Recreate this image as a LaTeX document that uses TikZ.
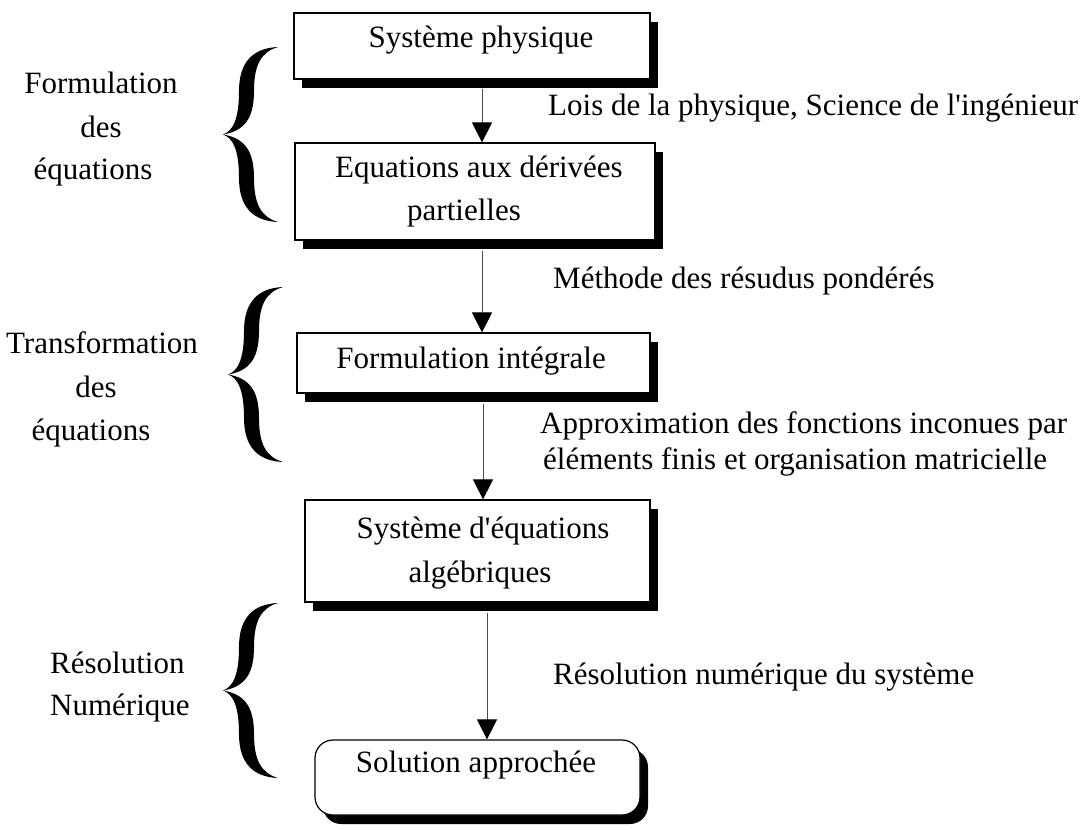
\documentclass[tikz,border=0pt]{standalone}
\usepackage{fontspec}
\setmainfont{Liberation Serif}
\usetikzlibrary{shadows,arrows.meta}
\newcommand\mybrace[3]{% #1 x of tip, #2 top y, #3 height
  \fill[black, shift={(#1,#2)}, yscale=#3/175]
    (55,0) .. controls (30,1) and (16,15) .. (16,44)
           .. controls (16,72) and (10,84) .. (0,87.5)
           .. controls (10,91) and (16,103) .. (16,131)
           .. controls (16,160) and (30,174) .. (55,175)
           .. controls (38,170) and (31,157) .. (31,131)
           .. controls (31,103) and (21,91) .. (0,87.5)
           .. controls (21,84) and (31,72) .. (31,44)
           .. controls (31,18) and (38,5) .. (55,0) -- cycle;}
\tikzset{
  box/.style={draw, line width=1.2pt, fill=white, inner sep=0pt,
    drop shadow={fill=black, opacity=1, shadow xshift=8pt, shadow yshift=-9pt}},
  arr/.style={line width=1pt, draw=black!70, -{Triangle[length=20pt,width=20pt,color=black]}},
  txt/.style={font=\fontsize{31}{37}\selectfont, inner sep=0pt, anchor=base},
  txtl/.style={txt, anchor=base west},
}
\begin{document}
\begin{tikzpicture}[x=1pt,y=-1pt]
\useasboundingbox (0,0) rectangle (1088,830);
% boxes
\node[box, minimum width=356pt, minimum height=66pt] (b1) at (472,46) {};
\node[box, minimum width=360pt, minimum height=97pt] (b2) at (475,191.5) {};
\node[box, minimum width=353pt, minimum height=60pt] (b3) at (473.5,363) {};
\node[box, minimum width=345pt, minimum height=102pt] (b4) at (477.5,551) {};
\node[box, rounded corners=18pt, minimum width=325pt, minimum height=75pt] (b5) at (477.5,777.5) {};
% box texts
\node[txt] (t1) at (481,47) {Système physique};
\node[txt] (t2a) at (479,177) {Equations aux dérivées};
\node[txt] (t2b) at (464,220) {partielles};
\node[txt] (t3) at (471,368) {Formulation intégrale};
\node[txt] (t4a) at (483,538) {Système d\textquotesingle équations};
\node[txt] (t4b) at (480,582) {algébriques};
\node[txt] (t5) at (476,772) {Solution approchée};
% arrow columns
\coordinate (ax1) at (482,0);
\coordinate (ax2) at (482,0);
\coordinate (ax3) at (483,0);
\coordinate (ax4) at (487,0);
\draw[arr, shorten <=9pt] (b1.south -| ax1) -- (b2.north -| ax1);
\draw[arr, shorten <=10pt] (b2.south -| ax2) -- (b3.north -| ax2);
\draw[arr, shorten <=10pt] (b3.south -| ax3) -- (b4.north -| ax3);
\draw[arr, shorten <=10pt] (b4.south -| ax4) -- (b5.north -| ax4);
% connector labels
\node[txtl] (l1) at (548,115) {Lois de la physique, Science de l\textquotesingle ingénieur};
\node[txtl] (l2) at (553,288) {Méthode des résudus pondérés};
\node[txtl] (l3a) at (540,433) {Approximation des fonctions inconues par};
\node[txtl] (l3b) at (543,469) {éléments finis et organisation matricielle};
\node[txtl] (l4) at (553,684) {Résolution numérique du système};
% braces
\mybrace{223}{47}{175}
\mybrace{228}{287}{175}
\mybrace{223}{603}{175}
% side labels
\node[txt] (f1a) at (101,93) {Formulation};
\node[txt] (f1b) at (101,137) {des};
\node[txt] (f1c) at (93,179) {équations};
\node[txt] (f2a) at (102,353) {Transformation};
\node[txt] (f2b) at (96,397) {des};
\node[txt] (f2c) at (91,440) {équations};
\node[txtl] (f3a) at (50,673) {Résolution};
\node[txtl] (f3b) at (50,715) {Numérique};
\end{tikzpicture}
\end{document}
